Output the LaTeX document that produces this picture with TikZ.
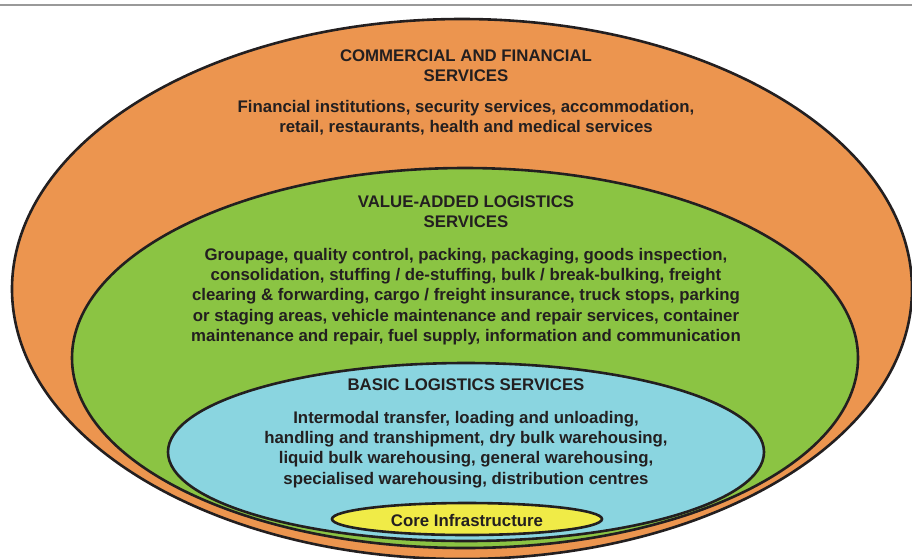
\documentclass[tikz,border=0pt]{standalone}
\usepackage{fontspec}
\setmainfont{Liberation Sans}
\usetikzlibrary{positioning}
\definecolor{orng}{HTML}{EC954F}
\definecolor{grn}{HTML}{8BC443}
\definecolor{blu}{HTML}{8AD5E0}
\definecolor{ylw}{HTML}{F0EB47}
\definecolor{ink}{HTML}{231F20}

\begin{document}
\begin{tikzpicture}[x=1pt, y=-1pt]
  \tikzset{ring/.style={draw=ink, line width=2.6pt},
           txt/.style={align=center, inner sep=0pt, text=ink,
                       font=\bfseries\fontsize{16.8}{20.3}\selectfont}};
  \useasboundingbox (0,0) rectangle (912,558);
  \draw[black!40, line width=1.5pt] (0,5) -- (912,5);
  % nested rings
  \draw[ring, fill=orng] (462,289) ellipse [x radius=450, y radius=270];
  \draw[ring, fill=grn] (465,358) ellipse [x radius=393, y radius=190];
  \draw[ring, fill=blu] (466,452) ellipse [x radius=298, y radius=89];
  \draw[ring, fill=ylw] (467,519) ellipse [x radius=135, y radius=16];
  % texts
  \node[txt] (comtitle) at (466,65.5) {COMMERCIAL AND FINANCIAL\\SERVICES};
  \node[txt] (combody) at (466,118) {Financial institutions, security services, accommodation,\\retail, restaurants, health and medical services};
  \node[txt] (valtitle) at (466,211.5) {VALUE-ADDED LOGISTICS\\SERVICES};
  \node[txt] (valbody) at (466,296.5) {Groupage, quality control, packing, packaging, goods inspection,\\consolidation, stuffing / de-stuffing, bulk / break-bulking, freight\\clearing \& forwarding, cargo / freight insurance, truck stops, parking\\or staging areas, vehicle maintenance and repair services, container\\maintenance and repair, fuel supply, information and communication};
  \node[txt] (bastitle) at (466,385) {BASIC LOGISTICS SERVICES};
  \node[txt] (basbody) at (466,449.5) {Intermodal transfer, loading and unloading,\\handling and transhipment, dry bulk warehousing,\\liquid bulk warehousing, general warehousing,\\specialised warehousing, distribution centres};
  \node[txt] (core) at (467,520) {Core Infrastructure};
\end{tikzpicture}
\end{document}
